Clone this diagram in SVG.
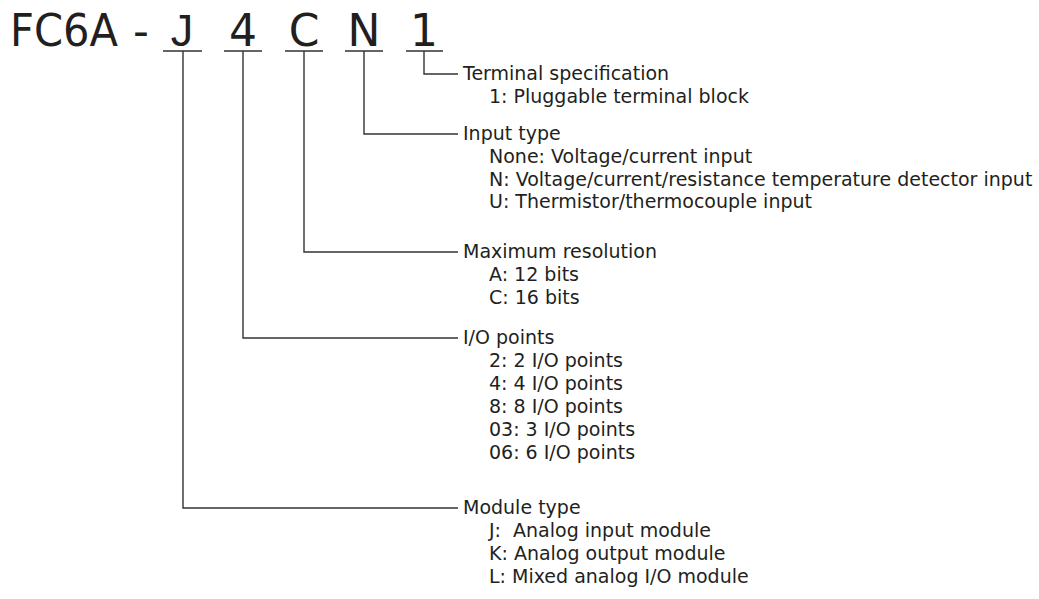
<svg xmlns="http://www.w3.org/2000/svg" width="1039" height="599" viewBox="0 0 1039 599">
<style>
.t{font-family:"DejaVu Sans","Liberation Sans",sans-serif;font-size:19px;fill:#231f20}
.big{font-family:"DejaVu Sans","Liberation Sans",sans-serif;font-size:44px;fill:#231f20}
.j{font-family:"Liberation Sans",sans-serif;font-size:45px}
.c{fill:none;stroke:#333;stroke-width:1.4}
</style>
<rect width="1039" height="599" fill="#fff"/>
<g id="code">
<text class="big" x="10" y="46" textLength="108" lengthAdjust="spacingAndGlyphs">FC6A</text>
<text class="big" x="141" y="46" text-anchor="middle">-</text>
<text class="big j" x="182" y="46" text-anchor="middle">J</text>
<text class="big" x="243" y="46" text-anchor="middle">4</text>
<text class="big" x="304" y="46" text-anchor="middle">C</text>
<text class="big" x="364" y="46" text-anchor="middle">N</text>
<text class="big" x="424" y="46" text-anchor="middle">1</text>
</g>
<g id="connectors">
<path class="c" d="M163 51H202M224 51H262M285 51H323M345 51H383M406 51H443"/>
<path class="c" d="M424 51V74H458"/>
<path class="c" d="M364 51V134H458"/>
<path class="c" d="M304 51V252H458"/>
<path class="c" d="M243 51V338H458"/>
<path class="c" d="M183 51V508H458"/>
</g>
<g id="terminal">
<text class="t" x="463" y="80">Terminal specification</text>
<text class="t" x="489" y="103">1: Pluggable terminal block</text>
</g>
<g id="input">
<text class="t" x="463" y="140">Input type</text>
<text class="t" x="489" y="163">None: Voltage/current input</text>
<text class="t" x="489" y="186">N: Voltage/current/resistance temperature detector input</text>
<text class="t" x="489" y="208">U: Thermistor/thermocouple input</text>
</g>
<g id="resolution">
<text class="t" x="463" y="258">Maximum resolution</text>
<text class="t" x="489" y="281">A: 12 bits</text>
<text class="t" x="489" y="304">C: 16 bits</text>
</g>
<g id="io">
<text class="t" x="463" y="344">I/O points</text>
<text class="t" x="489" y="367">2: 2 I/O points</text>
<text class="t" x="489" y="390">4: 4 I/O points</text>
<text class="t" x="489" y="413">8: 8 I/O points</text>
<text class="t" x="489" y="436">03: 3 I/O points</text>
<text class="t" x="489" y="459">06: 6 I/O points</text>
</g>
<g id="module">
<text class="t" x="463" y="514">Module type</text>
<text class="t" x="489" y="537">J:&#160; Analog input module</text>
<text class="t" x="489" y="560">K: Analog output module</text>
<text class="t" x="489" y="583">L: Mixed analog I/O module</text>
</g>
</svg>
